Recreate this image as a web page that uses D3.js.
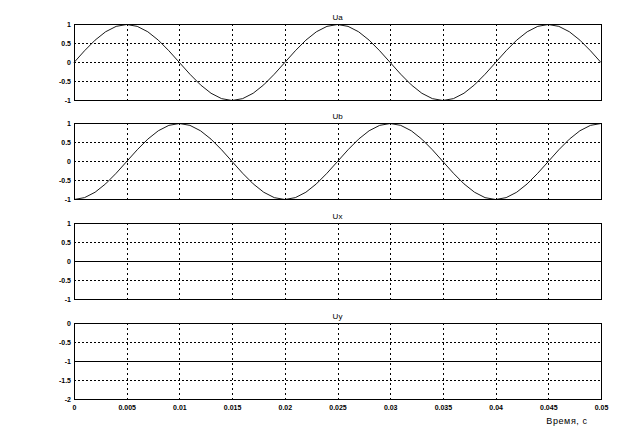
<!DOCTYPE html>
<html><head><meta charset="utf-8">
<script src="https://cdn.jsdelivr.net/npm/d3@7"></script>
<style>
body{margin:0;background:#fff;}
svg{display:block;}
</style></head>
<body>
<svg id="c" width="631" height="437"></svg>
<script>
// ---- data ----
const timeStep = 0.001;
const timeTicks = [0,0.005,0.01,0.015,0.02,0.025,0.03,0.035,0.04,0.045,0.05];
const timeTickLabels = ["0","0.005","0.01","0.015","0.02","0.025","0.03","0.035","0.04","0.045","0.05"];
const panelTitles = ["Ua","Ub","Ux","Uy"];
const xLabel = "Время, с";
const uaValues = [0,0.309,0.588,0.809,0.951,1,0.951,0.809,0.588,0.309,0,-0.309,-0.588,-0.809,-0.951,-1,-0.951,-0.809,-0.588,-0.309,
  0,0.309,0.588,0.809,0.951,1,0.951,0.809,0.588,0.309,0,-0.309,-0.588,-0.809,-0.951,-1,-0.951,-0.809,-0.588,-0.309,
  0,0.309,0.588,0.809,0.951,1,0.951,0.809,0.588,0.309,0];
const ubValues = [-1,-0.951,-0.809,-0.588,-0.309,0,0.309,0.588,0.809,0.951,1,0.951,0.809,0.588,0.309,0,-0.309,-0.588,-0.809,-0.951,
  -1,-0.951,-0.809,-0.588,-0.309,0,0.309,0.588,0.809,0.951,1,0.951,0.809,0.588,0.309,0,-0.309,-0.588,-0.809,-0.951,
  -1,-0.951,-0.809,-0.588,-0.309,0,0.309,0.588,0.809,0.951,1];
const uxValues = [0,0];
const uyValues = [-1,-1];
const flatTimes = [0,0.05];
const yTicksA = [-1,-0.5,0,0.5,1];
const yTicksY = [-2,-1.5,-1,-0.5,0];
const yTickLabelsA = ["-1","-0.5","0","0.5","1"];
const yTickLabelsY = ["-2","-1.5","-1","-0.5","0"];
</script>
<script>
const svg = d3.select("#c");
const left = 74, right = 601, panelH = 76;
const tops = [24,123,223,323];
const x = d3.scaleLinear().domain([0,0.05]).range([left,right]);
const font = "Liberation Sans, Arial, sans-serif";

const panels = [
  {title:panelTitles[0], t:uaValues.map((v,i)=>i*timeStep), v:uaValues, dom:[-1,1], ticks:yTicksA, labels:yTickLabelsA},
  {title:panelTitles[1], t:ubValues.map((v,i)=>i*timeStep), v:ubValues, dom:[-1,1], ticks:yTicksA, labels:yTickLabelsA},
  {title:panelTitles[2], t:flatTimes, v:uxValues, dom:[-1,1], ticks:yTicksA, labels:yTickLabelsA, flat:true},
  {title:panelTitles[3], t:flatTimes, v:uyValues, dom:[-2,0], ticks:yTicksY, labels:yTickLabelsY, flat:true}
];

panels.forEach((p,pi)=>{
  const top = tops[pi], bot = top+panelH;
  const y = d3.scaleLinear().domain(p.dom).range([bot+0.5,top+0.5]);
  const g = svg.append("g");
  // grid
  timeTicks.slice(1,-1).forEach(tk=>{
    const xx = Math.round(x(tk))+0.5;
    g.append("line").attr("x1",xx).attr("x2",xx).attr("y1",top).attr("y2",bot)
      .attr("stroke","#000").attr("stroke-width",1).attr("stroke-dasharray","2,3").attr("shape-rendering","crispEdges");
  });
  p.ticks.slice(1,-1).forEach(tk=>{
    const yy = y(tk);
    g.append("line").attr("x1",left).attr("x2",right).attr("y1",yy).attr("y2",yy)
      .attr("stroke","#000").attr("stroke-width",1).attr("stroke-dasharray","2,2").attr("shape-rendering","crispEdges");
  });
  // data line
  const line = d3.line().x((d,i)=>x(p.t[i])).y(d=>y(d));
  g.append("path").attr("d",line(p.v)).attr("fill","none").attr("stroke","#000")
    .attr("stroke-width",p.flat?1:0.9).attr("shape-rendering",p.flat?"crispEdges":"auto");
  // box
  g.append("rect").attr("x",left+0.5).attr("y",top+0.5).attr("width",right-left).attr("height",panelH)
    .attr("fill","none").attr("stroke","#000").attr("stroke-width",1).attr("shape-rendering","crispEdges");
  // y axis labels
  const yAxis = d3.axisLeft(y).tickValues(p.ticks).tickFormat((d,i)=>p.labels[i]).tickSize(0).tickPadding(3);
  const ya = svg.append("g").attr("transform",`translate(${left},0)`).call(yAxis);
  ya.select(".domain").remove();
  ya.selectAll("text").attr("font-family",font).attr("font-size","7px").attr("font-weight","bold").attr("fill","#000");
  // title
  svg.append("text").attr("x",(left+right)/2).attr("y",top-4).attr("text-anchor","middle")
    .attr("font-family",font).attr("font-size","8px").attr("fill","#000").text(p.title);
  if(pi===3){
    const xAxis = d3.axisBottom(x).tickValues(timeTicks).tickFormat((d,i)=>timeTickLabels[i]).tickSize(0).tickPadding(6);
    const xa = svg.append("g").attr("transform",`translate(0,${bot})`).call(xAxis);
    xa.select(".domain").remove();
    xa.selectAll("text").attr("font-family",font).attr("font-size","7px").attr("font-weight","bold").attr("fill","#000");
  }
});
svg.append("text").attr("x",567).attr("y",424).attr("text-anchor","middle")
  .attr("font-family",font).attr("font-size","9px").attr("letter-spacing","0.6px").attr("fill","#000").text(xLabel);
</script>
</body></html>
